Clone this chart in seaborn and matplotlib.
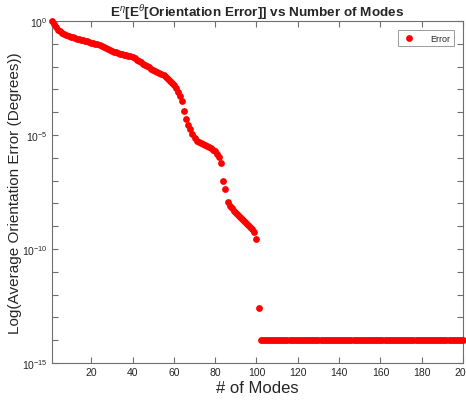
"""Orientation error vs number of modes (log scale), MATLAB-style scatter."""

import matplotlib

matplotlib.use("Agg")
import matplotlib.pyplot as plt
import matplotlib.ticker as mticker
import numpy as np
import pandas as pd
import seaborn as sns

# log10 of the average orientation error for modes 1..101
LOG_ERR_HEAD = [
    0.00, -0.12, -0.25, -0.38, -0.46, -0.54, -0.59, -0.63, -0.66, -0.69,
    -0.72, -0.75, -0.78, -0.80, -0.83, -0.85, -0.87, -0.90, -0.92, -0.95,
    -0.98, -1.00, -1.03, -1.06, -1.10, -1.14, -1.18, -1.22, -1.27, -1.31,
    -1.35, -1.38, -1.41, -1.44, -1.46, -1.48, -1.50, -1.52, -1.55, -1.59,
    -1.64, -1.70, -1.76, -1.82, -1.88, -1.94, -1.99, -2.04, -2.09, -2.14,
    -2.19, -2.24, -2.29, -2.33, -2.38, -2.45, -2.53, -2.62, -2.71, -2.80,
    -2.93, -3.10, -3.28, -3.50, -3.95, -4.30, -4.55, -4.75, -4.95, -5.15,
    -5.25, -5.31, -5.36, -5.41, -5.45, -5.49, -5.53, -5.58, -5.64, -5.72,
    -5.82, -5.98, -6.22, -7.00, -7.38, -7.92, -8.10, -8.22, -8.33, -8.43,
    -8.52, -8.60, -8.68, -8.76, -8.85, -8.94, -9.02, -9.12, -9.24, -9.55,
    -12.60,
]
# modes 102..200 sit on the numerical floor
LOG_ERR_TAIL = [
    -14.0, -14.0, -14.0, -14.0, -14.0, -14.0, -14.0, -14.0, -14.0, -14.0,
    -14.0, -14.0, -14.0, -14.0, -14.0, -14.0, -14.0, -14.0, -14.0, -14.0,
    -14.0, -14.0, -14.0, -14.0, -14.0, -14.0, -14.0, -14.0, -14.0, -14.0,
    -14.0, -14.0, -14.0, -14.0, -14.0, -14.0, -14.0, -14.0, -14.0, -14.0,
    -14.0, -14.0, -14.0, -14.0, -14.0, -14.0, -14.0, -14.0, -14.0, -14.0,
    -14.0, -14.0, -14.0, -14.0, -14.0, -14.0, -14.0, -14.0, -14.0, -14.0,
    -14.0, -14.0, -14.0, -14.0, -14.0, -14.0, -14.0, -14.0, -14.0, -14.0,
    -14.0, -14.0, -14.0, -14.0, -14.0, -14.0, -14.0, -14.0, -14.0, -14.0,
    -14.0, -14.0, -14.0, -14.0, -14.0, -14.0, -14.0, -14.0, -14.0, -14.0,
    -14.0, -14.0, -14.0, -14.0, -14.0, -14.0, -14.0, -14.0, -14.0,
]
X_TICKS = [20, 40, 60, 80, 100, 120, 140, 160, 180, 200]
Y_DECADES = list(range(0, -16, -1))

AXIS_GREY = "#6e6e6e"
TEXT_DARK = "#262626"


def main():
    sns.set_style("white")
    plt.rcParams["font.family"] = ["Liberation Sans", "DejaVu Sans"]
    plt.rcParams["mathtext.fontset"] = "custom"
    plt.rcParams["mathtext.rm"] = "Liberation Sans"
    plt.rcParams["mathtext.it"] = "Liberation Sans:italic"

    log_err = LOG_ERR_HEAD + LOG_ERR_TAIL
    df = pd.DataFrame({
        "modes": np.arange(1, len(log_err) + 1),
        "error": 10.0 ** np.array(log_err),
    })

    fig = plt.figure(figsize=(4.66, 4.02), dpi=100)
    ax = fig.add_axes([0.1116, 0.0945, 0.882, 0.851])

    sns.scatterplot(
        data=df, x="modes", y="error", ax=ax,
        color="red", edgecolor="red", linewidth=0, s=24, label="Error",
        zorder=3, clip_on=False,
    )

    ax.set_yscale("log")
    ax.set_xlim(1, 200)
    ax.set_ylim(1e-15, 1)

    ax.set_xticks(X_TICKS)
    ax.set_yticks([10.0 ** d for d in Y_DECADES])
    ax.yaxis.set_minor_locator(mticker.NullLocator())

    def _ylab(v, _pos):
        d = int(round(np.log10(v)))
        return rf"10$^{{{d}}}$" if d % 5 == 0 else ""

    ax.yaxis.set_major_formatter(mticker.FuncFormatter(_ylab))

    ax.tick_params(
        axis="both", which="major", direction="in", length=4, width=0.8,
        colors=AXIS_GREY, labelcolor=TEXT_DARK, labelsize=7.5,
        bottom=True, left=True, top=True, right=True, pad=3,
    )
    for sp in ax.spines.values():
        sp.set_color(AXIS_GREY)
        sp.set_linewidth(0.8)

    ax.set_xlabel("# of Modes", fontsize=12, color=TEXT_DARK, labelpad=2)
    ax.set_ylabel(
        "Log(Average Orientation Error (Degrees))", fontsize=11,
        color=TEXT_DARK,
    )
    ax.yaxis.set_label_coords(-0.072, 0.5)
    ax.set_title(
        r"E$^{\eta}$[E$^{\theta}$[Orientation Error]] vs Number of Modes",
        fontsize=9.7, fontweight="bold", color=TEXT_DARK, pad=3,
    )

    leg = ax.legend(
        loc="upper right", bbox_to_anchor=(0.977, 0.972), fontsize=6.5,
        frameon=True, fancybox=False, edgecolor=AXIS_GREY, borderpad=0.35,
        handletextpad=1.6, handlelength=1.6, borderaxespad=0,
    )
    leg.get_frame().set_linewidth(0.6)

    fig.savefig("out.png", dpi=100)
    plt.close(fig)


if __name__ == "__main__":
    main()
